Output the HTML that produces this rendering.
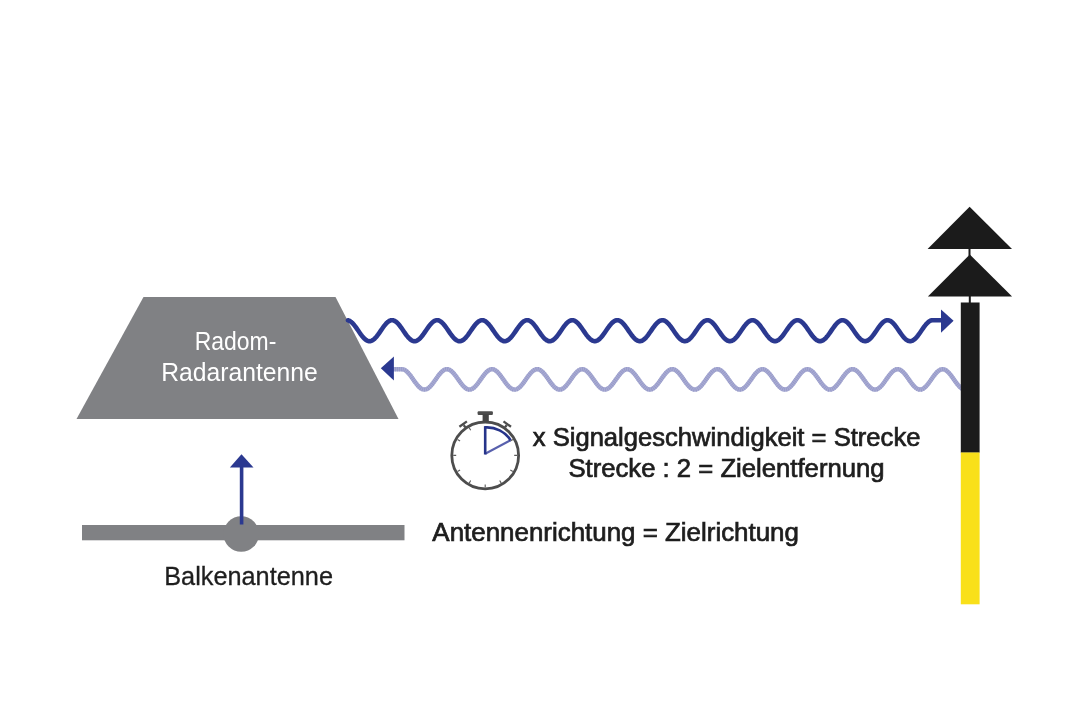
<!DOCTYPE html>
<html><head><meta charset="utf-8">
<style>
html,body{margin:0;padding:0;background:#fff;}
body{width:1068px;height:712px;overflow:hidden;}
svg{display:block;}
text{font-family:"Liberation Sans",sans-serif;}
svg{will-change:transform;}
.med{stroke:#1e1e1e;stroke-width:0.7px;}
</style></head><body>
<svg width="1068" height="712" viewBox="0 0 1068 712">
<rect width="1068" height="712" fill="#fff"/>
<!-- radom trapezoid -->
<polygon points="143.5,297 335.5,297 398.5,419 76.5,419" fill="#808184"/>
<text x="235.5" y="350" fill="#fff" font-size="25" text-anchor="middle" textLength="81.6" lengthAdjust="spacingAndGlyphs">Radom-</text>
<text x="239.5" y="380.7" fill="#fff" font-size="25" text-anchor="middle" textLength="156.6" lengthAdjust="spacingAndGlyphs">Radarantenne</text>
<!-- balken antenna -->
<rect x="82" y="525" width="322.5" height="15.3" fill="#808184"/>
<circle cx="241.2" cy="534" r="17.8" fill="#808184"/>
<rect x="239.8" y="465" width="3.6" height="59.5" fill="#2b3990"/>
<polygon points="241.5,454.3 253.5,467.5 229.9,467.5" fill="#2b3990"/>
<text x="248.6" y="584.9" fill="#1e1e1e" stroke="#1e1e1e" stroke-width="0.3" font-size="25" text-anchor="middle" textLength="168.8" lengthAdjust="spacingAndGlyphs">Balkenantenne</text>
<!-- waves -->
<path d="M348.0,320.30 L349.0,320.61 L350.0,321.11 L351.0,321.79 L352.0,322.65 L353.0,323.67 L354.0,324.82 L355.0,326.09 L356.0,327.44 L357.0,328.86 L358.0,330.32 L359.0,331.78 L360.0,333.22 L361.0,334.61 L362.0,335.93 L363.0,337.14 L364.0,338.23 L365.0,339.18 L366.0,339.96 L367.0,340.56 L368.0,340.96 L369.0,341.17 L370.0,341.18 L371.0,340.98 L372.0,340.58 L373.0,339.99 L374.0,339.22 L375.0,338.28 L376.0,337.20 L377.0,335.99 L378.0,334.68 L379.0,333.29 L380.0,331.85 L381.0,330.39 L382.0,328.93 L383.0,327.51 L384.0,326.15 L385.0,324.88 L386.0,323.72 L387.0,322.70 L388.0,321.83 L389.0,321.14 L390.0,320.63 L391.0,320.31 L392.0,320.20 L393.0,320.29 L394.0,320.59 L395.0,321.08 L396.0,321.75 L397.0,322.60 L398.0,323.61 L399.0,324.76 L400.0,326.02 L401.0,327.37 L402.0,328.79 L403.0,330.24 L404.0,331.71 L405.0,333.15 L406.0,334.54 L407.0,335.87 L408.0,337.09 L409.0,338.18 L410.0,339.13 L411.0,339.92 L412.0,340.53 L413.0,340.95 L414.0,341.17 L415.0,341.18 L416.0,340.99 L417.0,340.61 L418.0,340.02 L419.0,339.26 L420.0,338.34 L421.0,337.26 L422.0,336.06 L423.0,334.75 L424.0,333.36 L425.0,331.92 L426.0,330.46 L427.0,329.01 L428.0,327.58 L429.0,326.22 L430.0,324.94 L431.0,323.78 L432.0,322.75 L433.0,321.87 L434.0,321.17 L435.0,320.65 L436.0,320.32 L437.0,320.20 L438.0,320.28 L439.0,320.57 L440.0,321.05 L441.0,321.72 L442.0,322.56 L443.0,323.56 L444.0,324.70 L445.0,325.95 L446.0,327.30 L447.0,328.72 L448.0,330.17 L449.0,331.63 L450.0,333.08 L451.0,334.48 L452.0,335.80 L453.0,337.03 L454.0,338.13 L455.0,339.09 L456.0,339.89 L457.0,340.50 L458.0,340.93 L459.0,341.16 L460.0,341.19 L461.0,341.01 L462.0,340.63 L463.0,340.06 L464.0,339.31 L465.0,338.39 L466.0,337.32 L467.0,336.12 L468.0,334.82 L469.0,333.43 L470.0,332.00 L471.0,330.54 L472.0,329.08 L473.0,327.65 L474.0,326.28 L475.0,325.00 L476.0,323.83 L477.0,322.79 L478.0,321.91 L479.0,321.20 L480.0,320.67 L481.0,320.33 L482.0,320.20 L483.0,320.27 L484.0,320.55 L485.0,321.02 L486.0,321.68 L487.0,322.51 L488.0,323.51 L489.0,324.64 L490.0,325.89 L491.0,327.23 L492.0,328.64 L493.0,330.10 L494.0,331.56 L495.0,333.01 L496.0,334.41 L497.0,335.74 L498.0,336.97 L499.0,338.08 L500.0,339.05 L501.0,339.85 L502.0,340.48 L503.0,340.91 L504.0,341.15 L505.0,341.19 L506.0,341.02 L507.0,340.65 L508.0,340.09 L509.0,339.35 L510.0,338.43 L511.0,337.37 L512.0,336.18 L513.0,334.88 L514.0,333.50 L515.0,332.07 L516.0,330.61 L517.0,329.15 L518.0,327.72 L519.0,326.35 L520.0,325.06 L521.0,323.89 L522.0,322.84 L523.0,321.95 L524.0,321.23 L525.0,320.69 L526.0,320.35 L527.0,320.20 L528.0,320.27 L529.0,320.53 L530.0,320.99 L531.0,321.64 L532.0,322.47 L533.0,323.45 L534.0,324.58 L535.0,325.82 L536.0,327.16 L537.0,328.57 L538.0,330.02 L539.0,331.49 L540.0,332.93 L541.0,334.34 L542.0,335.67 L543.0,336.91 L544.0,338.03 L545.0,339.00 L546.0,339.81 L547.0,340.45 L548.0,340.90 L549.0,341.15 L550.0,341.19 L551.0,341.03 L552.0,340.68 L553.0,340.12 L554.0,339.39 L555.0,338.48 L556.0,337.43 L557.0,336.24 L558.0,334.95 L559.0,333.57 L560.0,332.14 L561.0,330.68 L562.0,329.22 L563.0,327.79 L564.0,326.42 L565.0,325.13 L566.0,323.94 L567.0,322.89 L568.0,321.99 L569.0,321.26 L570.0,320.71 L571.0,320.36 L572.0,320.21 L573.0,320.26 L574.0,320.51 L575.0,320.96 L576.0,321.60 L577.0,322.42 L578.0,323.40 L579.0,324.52 L580.0,325.76 L581.0,327.10 L582.0,328.50 L583.0,329.95 L584.0,331.41 L585.0,332.86 L586.0,334.27 L587.0,335.61 L588.0,336.85 L589.0,337.97 L590.0,338.96 L591.0,339.78 L592.0,340.42 L593.0,340.88 L594.0,341.14 L595.0,341.19 L596.0,341.05 L597.0,340.70 L598.0,340.16 L599.0,339.43 L600.0,338.53 L601.0,337.49 L602.0,336.31 L603.0,335.02 L604.0,333.64 L605.0,332.21 L606.0,330.75 L607.0,329.29 L608.0,327.86 L609.0,326.48 L610.0,325.19 L611.0,324.00 L612.0,322.94 L613.0,322.03 L614.0,321.29 L615.0,320.74 L616.0,320.37 L617.0,320.21 L618.0,320.25 L619.0,320.49 L620.0,320.94 L621.0,321.57 L622.0,322.38 L623.0,323.35 L624.0,324.46 L625.0,325.69 L626.0,327.03 L627.0,328.43 L628.0,329.88 L629.0,331.34 L630.0,332.79 L631.0,334.20 L632.0,335.54 L633.0,336.79 L634.0,337.92 L635.0,338.91 L636.0,339.74 L637.0,340.40 L638.0,340.86 L639.0,341.13 L640.0,341.20 L641.0,341.06 L642.0,340.72 L643.0,340.19 L644.0,339.47 L645.0,338.58 L646.0,337.54 L647.0,336.37 L648.0,335.08 L649.0,333.71 L650.0,332.29 L651.0,330.83 L652.0,329.37 L653.0,327.93 L654.0,326.55 L655.0,325.25 L656.0,324.06 L657.0,322.99 L658.0,322.07 L659.0,321.33 L660.0,320.76 L661.0,320.39 L662.0,320.21 L663.0,320.24 L664.0,320.48 L665.0,320.91 L666.0,321.53 L667.0,322.33 L668.0,323.29 L669.0,324.40 L670.0,325.63 L671.0,326.96 L672.0,328.36 L673.0,329.80 L674.0,331.27 L675.0,332.72 L676.0,334.13 L677.0,335.48 L678.0,336.73 L679.0,337.87 L680.0,338.87 L681.0,339.70 L682.0,340.37 L683.0,340.84 L684.0,341.12 L685.0,341.20 L686.0,341.07 L687.0,340.74 L688.0,340.22 L689.0,339.51 L690.0,338.63 L691.0,337.60 L692.0,336.43 L693.0,335.15 L694.0,333.78 L695.0,332.36 L696.0,330.90 L697.0,329.44 L698.0,328.00 L699.0,326.62 L700.0,325.31 L701.0,324.11 L702.0,323.04 L703.0,322.12 L704.0,321.36 L705.0,320.78 L706.0,320.40 L707.0,320.22 L708.0,320.24 L709.0,320.46 L710.0,320.88 L711.0,321.50 L712.0,322.29 L713.0,323.24 L714.0,324.34 L715.0,325.57 L716.0,326.89 L717.0,328.29 L718.0,329.73 L719.0,331.19 L720.0,332.65 L721.0,334.06 L722.0,335.41 L723.0,336.67 L724.0,337.81 L725.0,338.82 L726.0,339.67 L727.0,340.34 L728.0,340.82 L729.0,341.11 L730.0,341.20 L731.0,341.08 L732.0,340.76 L733.0,340.25 L734.0,339.55 L735.0,338.68 L736.0,337.65 L737.0,336.49 L738.0,335.22 L739.0,333.85 L740.0,332.43 L741.0,330.97 L742.0,329.51 L743.0,328.07 L744.0,326.69 L745.0,325.38 L746.0,324.17 L747.0,323.09 L748.0,322.16 L749.0,321.39 L750.0,320.81 L751.0,320.41 L752.0,320.22 L753.0,320.23 L754.0,320.44 L755.0,320.86 L756.0,321.46 L757.0,322.24 L758.0,323.19 L759.0,324.29 L760.0,325.50 L761.0,326.82 L762.0,328.22 L763.0,329.66 L764.0,331.12 L765.0,332.58 L766.0,333.99 L767.0,335.35 L768.0,336.61 L769.0,337.76 L770.0,338.77 L771.0,339.63 L772.0,340.31 L773.0,340.80 L774.0,341.10 L775.0,341.20 L776.0,341.09 L777.0,340.78 L778.0,340.28 L779.0,339.59 L780.0,338.73 L781.0,337.71 L782.0,336.55 L783.0,335.28 L784.0,333.92 L785.0,332.50 L786.0,331.05 L787.0,329.59 L788.0,328.14 L789.0,326.75 L790.0,325.44 L791.0,324.23 L792.0,323.14 L793.0,322.20 L794.0,321.43 L795.0,320.83 L796.0,320.43 L797.0,320.23 L798.0,320.23 L799.0,320.43 L800.0,320.83 L801.0,321.43 L802.0,322.20 L803.0,323.14 L804.0,324.23 L805.0,325.44 L806.0,326.75 L807.0,328.14 L808.0,329.59 L809.0,331.05 L810.0,332.50 L811.0,333.92 L812.0,335.28 L813.0,336.55 L814.0,337.71 L815.0,338.73 L816.0,339.59 L817.0,340.28 L818.0,340.78 L819.0,341.09 L820.0,341.20 L821.0,341.10 L822.0,340.80 L823.0,340.31 L824.0,339.63 L825.0,338.77 L826.0,337.76 L827.0,336.61 L828.0,335.35 L829.0,333.99 L830.0,332.58 L831.0,331.12 L832.0,329.66 L833.0,328.22 L834.0,326.82 L835.0,325.50 L836.0,324.29 L837.0,323.19 L838.0,322.24 L839.0,321.46 L840.0,320.86 L841.0,320.44 L842.0,320.23 L843.0,320.22 L844.0,320.41 L845.0,320.81 L846.0,321.39 L847.0,322.16 L848.0,323.09 L849.0,324.17 L850.0,325.38 L851.0,326.69 L852.0,328.07 L853.0,329.51 L854.0,330.97 L855.0,332.43 L856.0,333.85 L857.0,335.22 L858.0,336.49 L859.0,337.65 L860.0,338.68 L861.0,339.55 L862.0,340.25 L863.0,340.76 L864.0,341.08 L865.0,341.20 L866.0,341.11 L867.0,340.82 L868.0,340.34 L869.0,339.67 L870.0,338.82 L871.0,337.81 L872.0,336.67 L873.0,335.41 L874.0,334.06 L875.0,332.65 L876.0,331.19 L877.0,329.73 L878.0,328.29 L879.0,326.89 L880.0,325.57 L881.0,324.34 L882.0,323.24 L883.0,322.29 L884.0,321.50 L885.0,320.88 L886.0,320.46 L887.0,320.24 L888.0,320.22 L889.0,320.40 L890.0,320.78 L891.0,321.36 L892.0,322.12 L893.0,323.04 L894.0,324.11 L895.0,325.31 L896.0,326.62 L897.0,328.00 L898.0,329.44 L899.0,330.90 L900.0,332.36 L901.0,333.78 L902.0,335.15 L903.0,336.43 L904.0,337.60 L905.0,338.63 L906.0,339.51 L907.0,340.22 L908.0,340.74 L909.0,341.07 L910.0,341.20 L911.0,341.12 L912.0,340.84 L913.0,340.37 L914.0,339.70 L915.0,338.87 L916.0,337.87 L917.0,336.73 L918.0,335.48 L919.0,334.13 L920.0,332.72 L921.0,331.27 L922.0,329.80 L923.0,328.36 L924.0,326.96 L925.0,325.63 L926.0,324.40 L927.0,323.29 L928.0,322.33 L929.0,321.53 L930.0,320.91 L931.0,320.48 L932.0,320.24 L932.6,320.20 L941,320.20" fill="none" stroke="#2b3990" stroke-width="4.6" stroke-linecap="round" stroke-linejoin="round"/>
<polygon points="941,309.4 953.6,320.8 941,332.8" fill="#2b3990"/>
<path d="M393,369.20 L401.9,369.20 L402.9,369.30 L403.9,369.59 L404.9,370.08 L405.9,370.75 L406.9,371.58 L407.9,372.57 L408.9,373.69 L409.9,374.92 L410.9,376.23 L411.9,377.61 L412.9,379.03 L413.9,380.45 L414.9,381.85 L415.9,383.20 L416.9,384.48 L417.9,385.66 L418.9,386.72 L419.9,387.64 L420.9,388.39 L421.9,388.97 L422.9,389.37 L423.9,389.57 L424.9,389.58 L425.9,389.38 L426.9,389.00 L427.9,388.43 L428.9,387.68 L429.9,386.77 L430.9,385.72 L431.9,384.54 L432.9,383.27 L433.9,381.92 L434.9,380.52 L435.9,379.10 L436.9,377.68 L437.9,376.30 L438.9,374.98 L439.9,373.75 L440.9,372.62 L441.9,371.63 L442.9,370.78 L443.9,370.11 L444.9,369.61 L445.9,369.31 L446.9,369.20 L447.9,369.29 L448.9,369.57 L449.9,370.05 L450.9,370.71 L451.9,371.54 L452.9,372.52 L453.9,373.63 L454.9,374.85 L455.9,376.17 L456.9,377.54 L457.9,378.96 L458.9,380.38 L459.9,381.78 L460.9,383.13 L461.9,384.42 L462.9,385.60 L463.9,386.67 L464.9,387.59 L465.9,388.36 L466.9,388.95 L467.9,389.35 L468.9,389.57 L469.9,389.58 L470.9,389.40 L471.9,389.02 L472.9,388.46 L473.9,387.72 L474.9,386.82 L475.9,385.77 L476.9,384.60 L477.9,383.33 L478.9,381.99 L479.9,380.59 L480.9,379.17 L481.9,377.75 L482.9,376.37 L483.9,375.05 L484.9,373.81 L485.9,372.67 L486.9,371.67 L487.9,370.82 L488.9,370.14 L489.9,369.63 L490.9,369.32 L491.9,369.20 L492.9,369.28 L493.9,369.56 L494.9,370.02 L495.9,370.67 L496.9,371.49 L497.9,372.46 L498.9,373.57 L499.9,374.79 L500.9,376.10 L501.9,377.47 L502.9,378.88 L503.9,380.31 L504.9,381.71 L505.9,383.07 L506.9,384.36 L507.9,385.55 L508.9,386.62 L509.9,387.55 L510.9,388.32 L511.9,388.92 L513.0,389.34 L514.0,389.56 L515.0,389.59 L516.0,389.41 L517.0,389.05 L518.0,388.49 L519.0,387.76 L520.0,386.87 L521.0,385.83 L522.0,384.66 L523.0,383.40 L524.0,382.05 L525.0,380.66 L526.0,379.24 L527.0,377.82 L528.0,376.44 L529.0,375.11 L530.0,373.87 L531.0,372.73 L532.0,371.72 L533.0,370.86 L534.0,370.17 L535.0,369.66 L536.0,369.33 L537.0,369.20 L538.0,369.27 L539.0,369.54 L540.0,370.00 L541.0,370.64 L542.0,371.45 L543.0,372.41 L544.0,373.51 L545.0,374.73 L546.0,376.03 L547.0,377.40 L548.0,378.81 L549.0,380.23 L550.0,381.64 L551.0,383.00 L552.0,384.29 L553.0,385.49 L554.0,386.57 L555.0,387.51 L556.0,388.29 L557.0,388.90 L558.0,389.32 L559.0,389.55 L560.0,389.59 L561.0,389.43 L562.0,389.07 L563.0,388.52 L564.0,387.80 L565.0,386.91 L566.0,385.88 L567.0,384.72 L568.0,383.46 L569.0,382.12 L570.0,380.73 L571.0,379.31 L572.0,377.89 L573.0,376.51 L574.0,375.17 L575.0,373.92 L576.0,372.78 L577.0,371.77 L578.0,370.90 L579.0,370.20 L580.0,369.68 L581.0,369.34 L582.0,369.20 L583.0,369.26 L584.0,369.52 L585.0,369.97 L586.0,370.60 L587.0,371.40 L588.0,372.36 L589.0,373.45 L590.0,374.66 L591.0,375.97 L592.0,377.33 L593.0,378.74 L594.0,380.16 L595.0,381.57 L596.0,382.93 L597.0,384.23 L598.0,385.43 L599.0,386.52 L600.0,387.46 L601.0,388.25 L602.0,388.87 L603.0,389.31 L604.0,389.55 L605.0,389.59 L606.0,389.44 L607.0,389.09 L608.0,388.55 L609.0,387.84 L610.0,386.96 L611.0,385.94 L612.0,384.78 L613.0,383.53 L614.0,382.19 L615.0,380.80 L616.0,379.38 L617.0,377.96 L618.0,376.57 L619.0,375.24 L620.0,373.99 L621.0,372.84 L622.0,371.81 L623.0,370.94 L624.0,370.23 L625.0,369.70 L626.0,369.35 L627.0,369.21 L628.0,369.26 L629.0,369.50 L630.0,369.94 L631.0,370.56 L632.0,371.36 L633.0,372.31 L634.0,373.40 L635.0,374.60 L636.0,375.90 L637.0,377.26 L638.0,378.67 L639.0,380.09 L640.0,381.50 L641.0,382.87 L642.0,384.17 L643.0,385.38 L644.0,386.47 L645.0,387.42 L646.0,388.22 L647.0,388.85 L648.0,389.29 L649.0,389.54 L650.0,389.59 L651.0,389.45 L652.0,389.11 L653.0,388.59 L654.0,387.88 L655.0,387.01 L656.0,385.99 L657.0,384.84 L658.0,383.59 L659.0,382.26 L660.0,380.87 L661.0,379.45 L662.0,378.03 L663.0,376.64 L664.0,375.30 L665.0,374.05 L666.0,372.89 L667.0,371.86 L668.0,370.98 L669.0,370.26 L670.0,369.72 L671.0,369.37 L672.0,369.21 L673.0,369.25 L674.0,369.49 L675.0,369.91 L676.0,370.53 L677.0,371.31 L678.0,372.26 L679.0,373.34 L680.0,374.54 L681.0,375.83 L682.0,377.19 L683.0,378.60 L684.0,380.02 L685.0,381.43 L686.0,382.80 L687.0,384.11 L688.0,385.32 L689.0,386.41 L690.0,387.38 L691.0,388.18 L692.0,388.82 L693.0,389.27 L694.0,389.53 L695.0,389.60 L696.0,389.46 L697.0,389.13 L698.0,388.62 L699.0,387.92 L700.0,387.06 L701.0,386.05 L702.0,384.91 L703.0,383.66 L704.0,382.33 L705.0,380.94 L706.0,379.52 L707.0,378.11 L708.0,376.71 L709.0,375.37 L710.0,374.11 L711.0,372.95 L712.0,371.91 L713.0,371.02 L714.0,370.29 L715.0,369.74 L716.0,369.38 L717.0,369.21 L718.0,369.24 L719.0,369.47 L720.0,369.89 L721.0,370.49 L722.0,371.27 L723.0,372.21 L724.0,373.28 L725.0,374.48 L726.0,375.77 L727.0,377.13 L728.0,378.53 L729.0,379.95 L730.0,381.36 L731.0,382.73 L732.0,384.04 L733.0,385.26 L734.0,386.36 L735.0,387.33 L736.0,388.15 L737.0,388.79 L738.0,389.25 L739.0,389.52 L740.0,389.60 L741.0,389.47 L742.0,389.16 L743.0,388.65 L744.0,387.96 L745.0,387.10 L746.0,386.10 L747.0,384.96 L748.0,383.72 L749.0,382.40 L750.0,381.01 L751.0,379.60 L752.0,378.18 L753.0,376.78 L754.0,375.44 L755.0,374.17 L756.0,373.00 L757.0,371.96 L758.0,371.06 L759.0,370.33 L760.0,369.77 L761.0,369.39 L762.0,369.22 L763.0,369.24 L764.0,369.45 L765.0,369.86 L766.0,370.46 L767.0,371.23 L768.0,372.16 L769.0,373.22 L770.0,374.41 L771.0,375.70 L772.0,377.06 L773.0,378.46 L774.0,379.88 L775.0,381.29 L776.0,382.67 L777.0,383.98 L778.0,385.20 L779.0,386.31 L780.0,387.29 L781.0,388.11 L782.0,388.76 L783.0,389.23 L784.0,389.52 L785.0,389.60 L786.0,389.49 L787.0,389.18 L788.0,388.68 L789.0,388.00 L790.0,387.15 L791.0,386.15 L792.0,385.02 L793.0,383.79 L794.0,382.46 L795.0,381.08 L796.0,379.67 L797.0,378.25 L798.0,376.85 L799.0,375.50 L800.0,374.23 L801.0,373.06 L802.0,372.01 L803.0,371.10 L804.0,370.36 L805.0,369.79 L806.0,369.41 L807.0,369.22 L808.0,369.23 L809.0,369.44 L810.0,369.84 L811.0,370.42 L812.0,371.19 L813.0,372.11 L814.0,373.17 L815.0,374.35 L816.0,375.63 L817.0,376.99 L818.0,378.39 L819.0,379.81 L820.0,381.22 L821.0,382.60 L822.0,383.91 L823.0,385.14 L824.0,386.26 L825.0,387.24 L826.0,388.07 L827.0,388.73 L828.0,389.22 L829.0,389.51 L830.0,389.60 L831.0,389.50 L832.0,389.20 L833.0,388.71 L834.0,388.03 L835.0,387.20 L836.0,386.21 L837.0,385.08 L838.0,383.85 L839.0,382.53 L840.0,381.15 L841.0,379.74 L842.0,378.32 L843.0,376.92 L844.0,375.57 L845.0,374.29 L846.0,373.11 L847.0,372.06 L848.0,371.14 L849.0,370.39 L850.0,369.81 L851.0,369.42 L852.0,369.22 L853.0,369.22 L854.0,369.42 L855.0,369.81 L856.0,370.39 L857.0,371.14 L858.0,372.06 L859.0,373.11 L860.0,374.29 L861.0,375.57 L862.0,376.92 L863.0,378.32 L864.0,379.74 L865.0,381.15 L866.0,382.53 L867.0,383.85 L868.0,385.08 L869.0,386.21 L870.0,387.20 L871.0,388.03 L872.0,388.71 L873.0,389.20 L874.0,389.50 L875.0,389.60 L876.0,389.51 L877.0,389.22 L878.0,388.73 L879.0,388.07 L880.0,387.24 L881.0,386.26 L882.0,385.14 L883.0,383.91 L884.0,382.60 L885.0,381.22 L886.0,379.81 L887.0,378.39 L888.0,376.99 L889.0,375.63 L890.0,374.35 L891.0,373.17 L892.0,372.11 L893.0,371.19 L894.0,370.42 L895.0,369.84 L896.0,369.44 L897.0,369.23 L898.0,369.22 L899.0,369.41 L900.0,369.79 L901.0,370.36 L902.0,371.10 L903.0,372.01 L904.0,373.06 L905.0,374.23 L906.0,375.50 L907.0,376.85 L908.0,378.25 L909.0,379.67 L910.0,381.08 L911.0,382.46 L912.0,383.79 L913.0,385.02 L914.0,386.15 L915.0,387.15 L916.0,388.00 L917.0,388.68 L918.0,389.18 L919.0,389.49 L920.0,389.60 L921.0,389.52 L922.0,389.23 L923.0,388.76 L924.0,388.11 L925.0,387.29 L926.0,386.31 L927.0,385.20 L928.0,383.98 L929.0,382.67 L930.0,381.29 L931.0,379.88 L932.0,378.46 L933.0,377.06 L934.0,375.70 L935.0,374.41 L936.0,373.22 L937.0,372.16 L938.0,371.23 L939.0,370.46 L940.0,369.86 L941.0,369.45 L942.0,369.24 L943.0,369.22 L944.0,369.39 L945.0,369.77 L946.0,370.33 L947.0,371.06 L948.0,371.96 L949.0,373.00 L950.0,374.17 L951.0,375.44 L952.0,376.78 L953.0,378.18 L954.0,379.60 L955.0,381.01 L956.0,382.40 L957.0,383.72 L958.0,384.96 L959.0,386.10 L960.0,387.10 L961.0,387.96 L962.0,388.65 L963.0,389.16 L963.0,389.18" fill="none" stroke="#a8abd3" stroke-width="4.5" stroke-linejoin="round"/>
<path d="M393,369.20 L401.9,369.20 L402.9,369.30 L403.9,369.59 L404.9,370.08 L405.9,370.75 L406.9,371.58 L407.9,372.57 L408.9,373.69 L409.9,374.92 L410.9,376.23 L411.9,377.61 L412.9,379.03 L413.9,380.45 L414.9,381.85 L415.9,383.20 L416.9,384.48 L417.9,385.66 L418.9,386.72 L419.9,387.64 L420.9,388.39 L421.9,388.97 L422.9,389.37 L423.9,389.57 L424.9,389.58 L425.9,389.38 L426.9,389.00 L427.9,388.43 L428.9,387.68 L429.9,386.77 L430.9,385.72 L431.9,384.54 L432.9,383.27 L433.9,381.92 L434.9,380.52 L435.9,379.10 L436.9,377.68 L437.9,376.30 L438.9,374.98 L439.9,373.75 L440.9,372.62 L441.9,371.63 L442.9,370.78 L443.9,370.11 L444.9,369.61 L445.9,369.31 L446.9,369.20 L447.9,369.29 L448.9,369.57 L449.9,370.05 L450.9,370.71 L451.9,371.54 L452.9,372.52 L453.9,373.63 L454.9,374.85 L455.9,376.17 L456.9,377.54 L457.9,378.96 L458.9,380.38 L459.9,381.78 L460.9,383.13 L461.9,384.42 L462.9,385.60 L463.9,386.67 L464.9,387.59 L465.9,388.36 L466.9,388.95 L467.9,389.35 L468.9,389.57 L469.9,389.58 L470.9,389.40 L471.9,389.02 L472.9,388.46 L473.9,387.72 L474.9,386.82 L475.9,385.77 L476.9,384.60 L477.9,383.33 L478.9,381.99 L479.9,380.59 L480.9,379.17 L481.9,377.75 L482.9,376.37 L483.9,375.05 L484.9,373.81 L485.9,372.67 L486.9,371.67 L487.9,370.82 L488.9,370.14 L489.9,369.63 L490.9,369.32 L491.9,369.20 L492.9,369.28 L493.9,369.56 L494.9,370.02 L495.9,370.67 L496.9,371.49 L497.9,372.46 L498.9,373.57 L499.9,374.79 L500.9,376.10 L501.9,377.47 L502.9,378.88 L503.9,380.31 L504.9,381.71 L505.9,383.07 L506.9,384.36 L507.9,385.55 L508.9,386.62 L509.9,387.55 L510.9,388.32 L511.9,388.92 L513.0,389.34 L514.0,389.56 L515.0,389.59 L516.0,389.41 L517.0,389.05 L518.0,388.49 L519.0,387.76 L520.0,386.87 L521.0,385.83 L522.0,384.66 L523.0,383.40 L524.0,382.05 L525.0,380.66 L526.0,379.24 L527.0,377.82 L528.0,376.44 L529.0,375.11 L530.0,373.87 L531.0,372.73 L532.0,371.72 L533.0,370.86 L534.0,370.17 L535.0,369.66 L536.0,369.33 L537.0,369.20 L538.0,369.27 L539.0,369.54 L540.0,370.00 L541.0,370.64 L542.0,371.45 L543.0,372.41 L544.0,373.51 L545.0,374.73 L546.0,376.03 L547.0,377.40 L548.0,378.81 L549.0,380.23 L550.0,381.64 L551.0,383.00 L552.0,384.29 L553.0,385.49 L554.0,386.57 L555.0,387.51 L556.0,388.29 L557.0,388.90 L558.0,389.32 L559.0,389.55 L560.0,389.59 L561.0,389.43 L562.0,389.07 L563.0,388.52 L564.0,387.80 L565.0,386.91 L566.0,385.88 L567.0,384.72 L568.0,383.46 L569.0,382.12 L570.0,380.73 L571.0,379.31 L572.0,377.89 L573.0,376.51 L574.0,375.17 L575.0,373.92 L576.0,372.78 L577.0,371.77 L578.0,370.90 L579.0,370.20 L580.0,369.68 L581.0,369.34 L582.0,369.20 L583.0,369.26 L584.0,369.52 L585.0,369.97 L586.0,370.60 L587.0,371.40 L588.0,372.36 L589.0,373.45 L590.0,374.66 L591.0,375.97 L592.0,377.33 L593.0,378.74 L594.0,380.16 L595.0,381.57 L596.0,382.93 L597.0,384.23 L598.0,385.43 L599.0,386.52 L600.0,387.46 L601.0,388.25 L602.0,388.87 L603.0,389.31 L604.0,389.55 L605.0,389.59 L606.0,389.44 L607.0,389.09 L608.0,388.55 L609.0,387.84 L610.0,386.96 L611.0,385.94 L612.0,384.78 L613.0,383.53 L614.0,382.19 L615.0,380.80 L616.0,379.38 L617.0,377.96 L618.0,376.57 L619.0,375.24 L620.0,373.99 L621.0,372.84 L622.0,371.81 L623.0,370.94 L624.0,370.23 L625.0,369.70 L626.0,369.35 L627.0,369.21 L628.0,369.26 L629.0,369.50 L630.0,369.94 L631.0,370.56 L632.0,371.36 L633.0,372.31 L634.0,373.40 L635.0,374.60 L636.0,375.90 L637.0,377.26 L638.0,378.67 L639.0,380.09 L640.0,381.50 L641.0,382.87 L642.0,384.17 L643.0,385.38 L644.0,386.47 L645.0,387.42 L646.0,388.22 L647.0,388.85 L648.0,389.29 L649.0,389.54 L650.0,389.59 L651.0,389.45 L652.0,389.11 L653.0,388.59 L654.0,387.88 L655.0,387.01 L656.0,385.99 L657.0,384.84 L658.0,383.59 L659.0,382.26 L660.0,380.87 L661.0,379.45 L662.0,378.03 L663.0,376.64 L664.0,375.30 L665.0,374.05 L666.0,372.89 L667.0,371.86 L668.0,370.98 L669.0,370.26 L670.0,369.72 L671.0,369.37 L672.0,369.21 L673.0,369.25 L674.0,369.49 L675.0,369.91 L676.0,370.53 L677.0,371.31 L678.0,372.26 L679.0,373.34 L680.0,374.54 L681.0,375.83 L682.0,377.19 L683.0,378.60 L684.0,380.02 L685.0,381.43 L686.0,382.80 L687.0,384.11 L688.0,385.32 L689.0,386.41 L690.0,387.38 L691.0,388.18 L692.0,388.82 L693.0,389.27 L694.0,389.53 L695.0,389.60 L696.0,389.46 L697.0,389.13 L698.0,388.62 L699.0,387.92 L700.0,387.06 L701.0,386.05 L702.0,384.91 L703.0,383.66 L704.0,382.33 L705.0,380.94 L706.0,379.52 L707.0,378.11 L708.0,376.71 L709.0,375.37 L710.0,374.11 L711.0,372.95 L712.0,371.91 L713.0,371.02 L714.0,370.29 L715.0,369.74 L716.0,369.38 L717.0,369.21 L718.0,369.24 L719.0,369.47 L720.0,369.89 L721.0,370.49 L722.0,371.27 L723.0,372.21 L724.0,373.28 L725.0,374.48 L726.0,375.77 L727.0,377.13 L728.0,378.53 L729.0,379.95 L730.0,381.36 L731.0,382.73 L732.0,384.04 L733.0,385.26 L734.0,386.36 L735.0,387.33 L736.0,388.15 L737.0,388.79 L738.0,389.25 L739.0,389.52 L740.0,389.60 L741.0,389.47 L742.0,389.16 L743.0,388.65 L744.0,387.96 L745.0,387.10 L746.0,386.10 L747.0,384.96 L748.0,383.72 L749.0,382.40 L750.0,381.01 L751.0,379.60 L752.0,378.18 L753.0,376.78 L754.0,375.44 L755.0,374.17 L756.0,373.00 L757.0,371.96 L758.0,371.06 L759.0,370.33 L760.0,369.77 L761.0,369.39 L762.0,369.22 L763.0,369.24 L764.0,369.45 L765.0,369.86 L766.0,370.46 L767.0,371.23 L768.0,372.16 L769.0,373.22 L770.0,374.41 L771.0,375.70 L772.0,377.06 L773.0,378.46 L774.0,379.88 L775.0,381.29 L776.0,382.67 L777.0,383.98 L778.0,385.20 L779.0,386.31 L780.0,387.29 L781.0,388.11 L782.0,388.76 L783.0,389.23 L784.0,389.52 L785.0,389.60 L786.0,389.49 L787.0,389.18 L788.0,388.68 L789.0,388.00 L790.0,387.15 L791.0,386.15 L792.0,385.02 L793.0,383.79 L794.0,382.46 L795.0,381.08 L796.0,379.67 L797.0,378.25 L798.0,376.85 L799.0,375.50 L800.0,374.23 L801.0,373.06 L802.0,372.01 L803.0,371.10 L804.0,370.36 L805.0,369.79 L806.0,369.41 L807.0,369.22 L808.0,369.23 L809.0,369.44 L810.0,369.84 L811.0,370.42 L812.0,371.19 L813.0,372.11 L814.0,373.17 L815.0,374.35 L816.0,375.63 L817.0,376.99 L818.0,378.39 L819.0,379.81 L820.0,381.22 L821.0,382.60 L822.0,383.91 L823.0,385.14 L824.0,386.26 L825.0,387.24 L826.0,388.07 L827.0,388.73 L828.0,389.22 L829.0,389.51 L830.0,389.60 L831.0,389.50 L832.0,389.20 L833.0,388.71 L834.0,388.03 L835.0,387.20 L836.0,386.21 L837.0,385.08 L838.0,383.85 L839.0,382.53 L840.0,381.15 L841.0,379.74 L842.0,378.32 L843.0,376.92 L844.0,375.57 L845.0,374.29 L846.0,373.11 L847.0,372.06 L848.0,371.14 L849.0,370.39 L850.0,369.81 L851.0,369.42 L852.0,369.22 L853.0,369.22 L854.0,369.42 L855.0,369.81 L856.0,370.39 L857.0,371.14 L858.0,372.06 L859.0,373.11 L860.0,374.29 L861.0,375.57 L862.0,376.92 L863.0,378.32 L864.0,379.74 L865.0,381.15 L866.0,382.53 L867.0,383.85 L868.0,385.08 L869.0,386.21 L870.0,387.20 L871.0,388.03 L872.0,388.71 L873.0,389.20 L874.0,389.50 L875.0,389.60 L876.0,389.51 L877.0,389.22 L878.0,388.73 L879.0,388.07 L880.0,387.24 L881.0,386.26 L882.0,385.14 L883.0,383.91 L884.0,382.60 L885.0,381.22 L886.0,379.81 L887.0,378.39 L888.0,376.99 L889.0,375.63 L890.0,374.35 L891.0,373.17 L892.0,372.11 L893.0,371.19 L894.0,370.42 L895.0,369.84 L896.0,369.44 L897.0,369.23 L898.0,369.22 L899.0,369.41 L900.0,369.79 L901.0,370.36 L902.0,371.10 L903.0,372.01 L904.0,373.06 L905.0,374.23 L906.0,375.50 L907.0,376.85 L908.0,378.25 L909.0,379.67 L910.0,381.08 L911.0,382.46 L912.0,383.79 L913.0,385.02 L914.0,386.15 L915.0,387.15 L916.0,388.00 L917.0,388.68 L918.0,389.18 L919.0,389.49 L920.0,389.60 L921.0,389.52 L922.0,389.23 L923.0,388.76 L924.0,388.11 L925.0,387.29 L926.0,386.31 L927.0,385.20 L928.0,383.98 L929.0,382.67 L930.0,381.29 L931.0,379.88 L932.0,378.46 L933.0,377.06 L934.0,375.70 L935.0,374.41 L936.0,373.22 L937.0,372.16 L938.0,371.23 L939.0,370.46 L940.0,369.86 L941.0,369.45 L942.0,369.24 L943.0,369.22 L944.0,369.39 L945.0,369.77 L946.0,370.33 L947.0,371.06 L948.0,371.96 L949.0,373.00 L950.0,374.17 L951.0,375.44 L952.0,376.78 L953.0,378.18 L954.0,379.60 L955.0,381.01 L956.0,382.40 L957.0,383.72 L958.0,384.96 L959.0,386.10 L960.0,387.10 L961.0,387.96 L962.0,388.65 L963.0,389.16 L963.0,389.18" fill="none" stroke="#8387bd" stroke-width="4.5" stroke-dasharray="0.7 1.3" opacity="0.55"/>
<polygon points="380.8,368.3 393.9,356.6 393.9,380.4" fill="#2b3990"/>
<!-- tower -->
<polygon points="969.6,206.8 1012,249 927.6,249" fill="#1b1b1b"/>
<rect x="968.5" y="248" width="2" height="8" fill="#1b1b1b"/>
<polygon points="969.8,254.6 1012.1,296.5 927.9,296.5" fill="#1b1b1b"/>
<rect x="968.8" y="296" width="2" height="7" fill="#1b1b1b"/>
<rect x="960.8" y="302.5" width="18.8" height="150.2" fill="#1b1b1b"/>
<rect x="960.8" y="452.5" width="18.8" height="151.8" fill="#f9e01a"/>
<!-- stopwatch -->
<g stroke="#4d4d4d" fill="none">
<circle cx="485.2" cy="455.4" r="33.4" stroke-width="2.8"/>
<path d="M512.91,439.40 L510.31,440.90 M517.20,455.40 L514.20,455.40 M512.91,471.40 L510.31,469.90 M501.20,483.11 L499.70,480.51 M485.20,487.40 L485.20,484.40 M469.20,483.11 L470.70,480.51 M457.49,471.40 L460.09,469.90 M453.20,455.40 L456.20,455.40 M457.49,439.40 L460.09,440.90 M469.20,427.69 L470.70,430.29" stroke="#5a5a5a" stroke-width="1.1"/>
<path d="M459.4,426.8 L466.9,421.4 M463.8,425.2 L465.4,427.4" stroke-width="2.3"/>
<path d="M511.0,426.8 L503.5,421.4 M506.6,425.2 L505.0,427.4" stroke-width="2.3"/>
</g>
<rect x="477.6" y="411.3" width="15.3" height="3.8" rx="1" fill="#4d4d4d"/>
<rect x="482.6" y="414" width="6.2" height="7.5" fill="#454545"/>
<path d="M485.2,453.8 L485.2,427.4 A28,28 0 0 1 510.6,440.2 Z" fill="#fff" stroke="none"/>
<path d="M510.6,440.2 L485.2,453.8" stroke="#5860ad" stroke-width="2.1" fill="none"/>
<path d="M485.2,454.4 L485.2,427.4 A28,28 0 0 1 510.6,440.2" stroke="#26348a" stroke-width="2.6" fill="none" stroke-linejoin="miter"/>
<!-- text -->
<text class="med" x="726.6" y="446" fill="#1e1e1e" font-size="25" text-anchor="middle" textLength="387.7" lengthAdjust="spacingAndGlyphs">x Signalgeschwindigkeit = Strecke</text>
<text class="med" x="726.5" y="476.6" fill="#1e1e1e" font-size="25" text-anchor="middle" textLength="316.2" lengthAdjust="spacingAndGlyphs">Strecke : 2 = Zielentfernung</text>
<text class="med" x="615.65" y="541" fill="#1e1e1e" font-size="25" text-anchor="middle" textLength="366.6" lengthAdjust="spacingAndGlyphs">Antennenrichtung = Zielrichtung</text>
</svg>
</body></html>
